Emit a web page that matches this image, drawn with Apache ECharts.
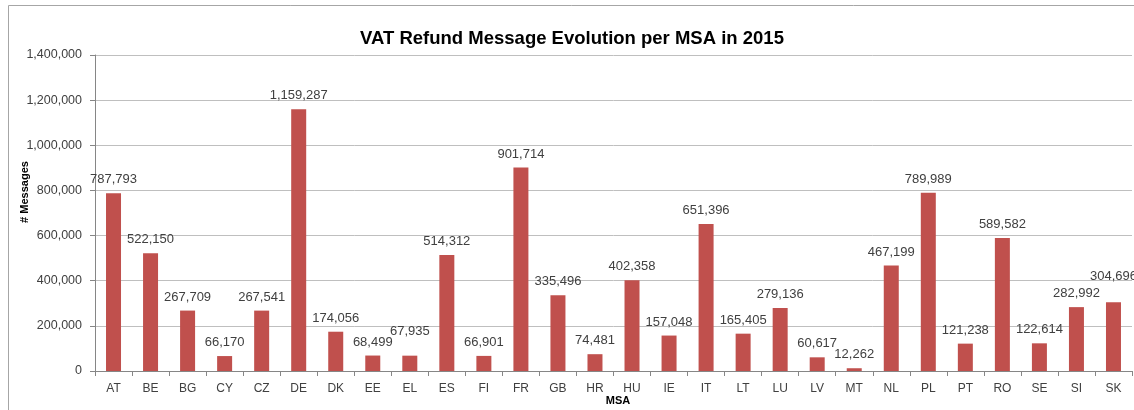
<!DOCTYPE html>
<html>
<head>
<meta charset="utf-8">
<script src="https://cdn.jsdelivr.net/npm/echarts@6/dist/echarts.min.js"></script>
<style>
html,body{margin:0;padding:0;background:#fff;overflow:hidden;}
#chart{width:1134px;height:410px;}
</style>
</head>
<body>
<div id="chart"></div>
<script>
var categories = ['AT','BE','BG','CY','CZ','DE','DK','EE','EL','ES','FI','FR','GB','HR','HU','IE','IT','LT','LU','LV','MT','NL','PL','PT','RO','SE','SI','SK'];
var messages = [787793,522150,267709,66170,267541,1159287,174056,68499,67935,514312,66901,901714,335496,74481,402358,157048,651396,165405,279136,60617,12262,467199,789989,121238,589582,122614,282992,304696];
var yTicks = {min: 0, max: 1400000, interval: 200000};
var titleText = 'VAT Refund Message Evolution per MSA in 2015';
var yName = '# Messages';
var xName = 'MSA';
// labels that were nudged upward in the original (pixels)
var labelLift = {EL: 11, SK: 12};

var fmt = function (v) { return Number(v).toLocaleString('en-US'); };
var chart = echarts.init(document.getElementById('chart'));
var seriesData = messages.map(function (v, i) {
  var item = {value: v};
  if (labelLift[categories[i]]) item.label = {offset: [0, -labelLift[categories[i]]]};
  return item;
});
chart.setOption({
  animation: false,
  backgroundColor: '#ffffff',
  title: {
    text: titleText, left: 567, top: 24, textAlign: 'center',
    textStyle: {fontFamily: 'Liberation Sans, Arial', fontWeight: 'bold', fontSize: 18.5, color: '#000'}
  },
  graphic: [
    {type: 'rect', shape: {x: 8.5, y: 5.5, width: 1300, height: 600}, style: {fill: 'none', stroke: '#a6a6a6', lineWidth: 1}, silent: true},
    {type: 'text', x: 25, y: 192, rotation: Math.PI / 2, style: {text: yName, font: 'bold 11px "Liberation Sans", Arial', fill: '#000', align: 'center', verticalAlign: 'middle'}}
  ],
  grid: {left: 95, right: 2, top: 55, bottom: 39, containLabel: false, outerBoundsMode: 'none'},
  xAxis: {
    type: 'category', data: categories,
    name: xName, nameLocation: 'middle', nameGap: 24, nameMoveOverlap: false,
    nameTextStyle: {fontFamily: 'Liberation Sans, Arial', fontWeight: 'bold', fontSize: 11, color: '#000', padding: [0, 0, 0, 9]},
    axisLine: {lineStyle: {color: '#868686', width: 1}},
    axisTick: {show: true, alignWithLabel: false, length: 5, lineStyle: {color: '#868686'}},
    axisLabel: {fontFamily: 'Liberation Sans, Arial', fontSize: 12, color: '#404040', margin: 12}
  },
  yAxis: {
    type: 'value', min: yTicks.min, max: yTicks.max, interval: yTicks.interval,
    axisLine: {show: true, lineStyle: {color: '#868686', width: 1}},
    axisTick: {show: true, length: 5, lineStyle: {color: '#868686'}},
    axisLabel: {fontFamily: 'Liberation Sans, Arial', fontSize: 12.5, color: '#404040', margin: 13, formatter: fmt},
    splitLine: {show: true, lineStyle: {color: '#bfbfbf', width: 1}}
  },
  series: [{
    type: 'bar', data: seriesData, barWidth: 15,
    itemStyle: {color: '#c0504d'},
    label: {show: true, position: 'top', distance: 7, fontFamily: 'Liberation Sans, Arial', fontSize: 13, color: '#404040', formatter: function (p) { return fmt(p.value); }}
  }]
});
</script>
</body>
</html>
